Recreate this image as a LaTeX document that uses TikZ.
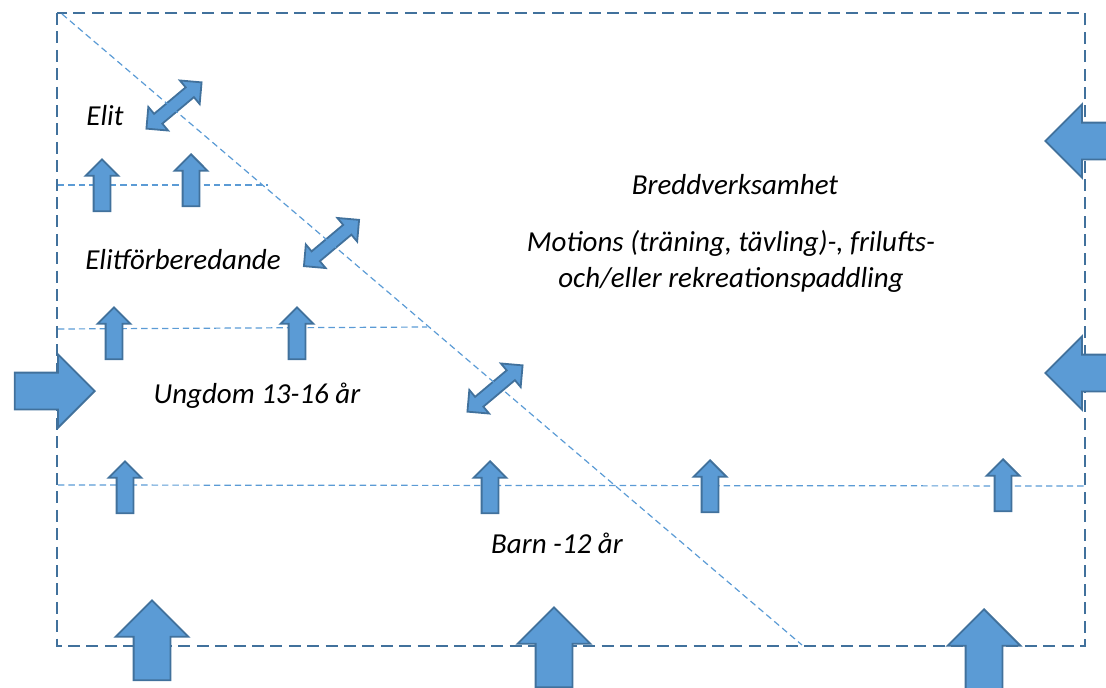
\documentclass[tikz,border=0pt]{standalone}
\usepackage{fontspec}
\setmainfont{Carlito}
\usepackage{tikz}
\usetikzlibrary{shapes.arrows}
\definecolor{blockfill}{HTML}{5B9BD5}
\definecolor{blockline}{HTML}{41719C}

\begin{document}
\begin{tikzpicture}[x=0.25mm, y=-0.25mm,
    outline/.style={blockline, line width=0.65mm, dash pattern=on 3mm off 1.6mm},
    guide/.style={blockfill, line width=0.3mm, dash pattern=on 1.6mm off 1mm},
    blk/.style={draw=blockline, fill=blockfill, line width=0.45mm, inner sep=0pt, text depth=0pt},
    smallup/.style={blk, single arrow, anchor=tip, rotate=90, minimum height=13mm,
        text height=3.75mm, single arrow head extend=2mm},
    bigup/.style={blk, single arrow, anchor=tip, rotate=90, minimum height=20mm,
        text height=8.75mm, single arrow head extend=4.5mm},
    side/.style={blk, single arrow, anchor=tip, minimum height=20mm,
        text height=8.75mm, single arrow head extend=4.6mm},
    both/.style={blk, double arrow, rotate=40, minimum height=18mm,
        text height=2.75mm, double arrow head extend=2.25mm},
    lbl/.style={font=\fontsize{20.6}{24.9}\selectfont\itshape, anchor=base, inner sep=0pt}]
    \useasboundingbox (0,0) rectangle (1106,687);

    \coordinate (NW) at (57,13);
    \coordinate (SE) at (1085,646);

    % Level lines
    \draw[guide] (58,185) -- (268,185);
    \draw[guide] (58,329) -- (427,327);
    \draw[guide] (58,485) -- (1085,486);

    % Frame
    \draw[outline] (NW) rectangle (SE);

    % Up arrows between levels
    \node[smallup] (u1) at (102,158) {};
    \node[smallup] (u2) at (191,153) {};
    \node[smallup] (u3) at (114,306) {};
    \node[smallup] (u4) at (297,306) {};
    \node[smallup] (u5) at (125,460) {};
    \node[smallup] (u6) at (490,460) {};
    \node[smallup] (u7) at (710,459) {};
    \node[smallup] (u8) at (1003,458) {};

    % Arrows into the frame
    \node[bigup] (b1) at (152,599) {};
    \node[bigup] (b2) at (554,606) {};
    \node[bigup] (b3) at (984,608) {};
    \node[side, rotate=180] (r1) at (1044,141) {};
    \node[side, rotate=180] (r2) at (1044,373) {};
    \node[side] (l1) at (96,391) {};

    % Exchange with Breddverksamhet
    \node[both] (d1) at (174,105.5) {};
    \node[both] (d2) at (331.5,243) {};
    \node[both] (d3) at (495,388.5) {};

    % Diagonal
    \draw[guide] (62,14) -- (802,645);

    % Labels
    \node[lbl] (elit) at (105,125) {Elit};
    \node[lbl] (elitf) at (183,269) {Elitförberedande};
    \node[lbl] (ungdom) at (257,403) {Ungdom 13-16 år};
    \node[lbl] (barn) at (557,553) {Barn -12 år};
    \node[lbl] (bredd) at (735,194) {Breddverksamhet};
    \node[lbl, align=center] (motion) at (731,287) {Motions (träning, tävling)-, frilufts-\\och/eller rekreationspaddling};
\end{tikzpicture}
\end{document}
